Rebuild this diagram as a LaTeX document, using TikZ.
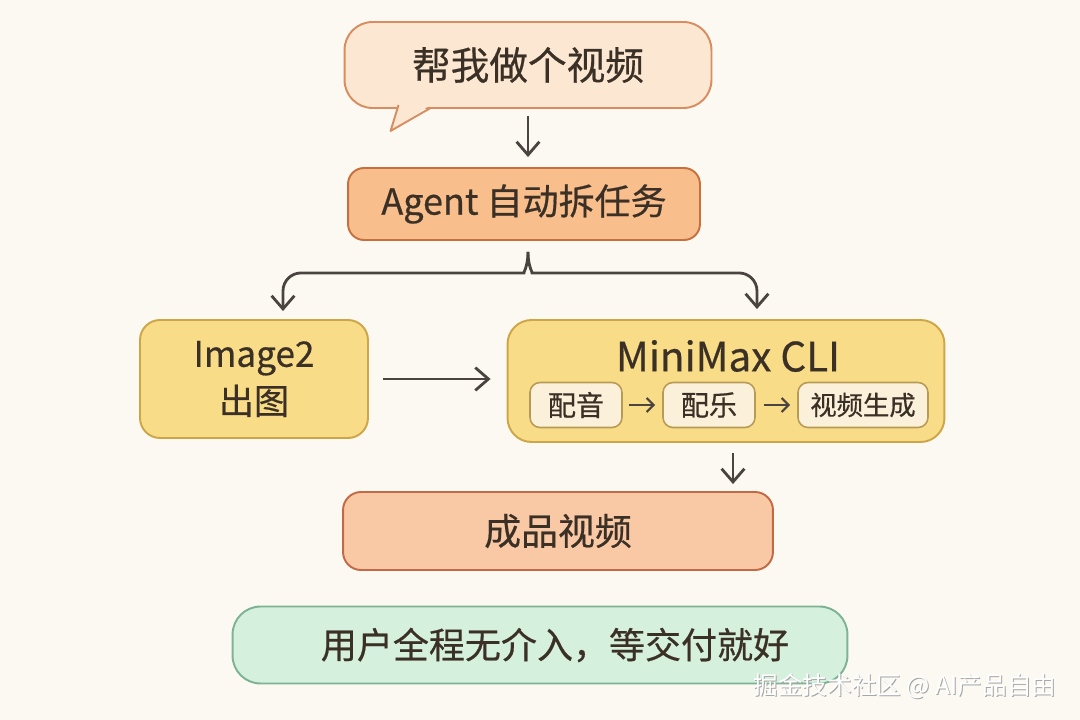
\documentclass[tikz,border=0pt]{standalone}
\usepackage{fontspec}
\newfontfamily\cjk[FakeBold=0.5]{Noto Sans CJK SC}
\newfontfamily\markfont{Noto Sans CJK SC}
\usepackage{tikz}
\usetikzlibrary{arrows.meta,calc}
\definecolor{paper}{HTML}{FCF9F2}
\definecolor{ink}{HTML}{3B3026}
\definecolor{arrowgray}{HTML}{4A4440}
\definecolor{peachfill}{HTML}{FCE8D2}
\definecolor{peachline}{HTML}{D98C5F}
\definecolor{orangefill}{HTML}{F8BE8C}
\definecolor{orangeline}{HTML}{C7703F}
\definecolor{yellowfill}{HTML}{F9DC87}
\definecolor{yellowline}{HTML}{CDA648}
\definecolor{creamfill}{HTML}{FBF0DA}
\definecolor{creamline}{HTML}{B79B55}
\definecolor{salmonfill}{HTML}{F9C9A5}
\definecolor{salmonline}{HTML}{C26A45}
\definecolor{mintfill}{HTML}{D5F0DD}
\definecolor{mintline}{HTML}{7DB394}

\begin{document}
\begin{tikzpicture}[x=0.02cm, y=-0.02cm,
    box/.style={draw, line width=1.1pt, text=ink, align=center, inner sep=0pt},
    arr/.style={draw=arrowgray, line width=1.6pt, -{Straight Barb[length=7.5pt,width=13pt]}},
    smallarr/.style={draw=arrowgray, line width=1.2pt, -{Straight Barb[length=4pt,width=8pt]}}]

                \useasboundingbox[fill=paper] (0,0) rectangle (1080,720);

                % request bubble
                \node[box, draw=peachline, fill=peachfill, rounded corners=0.56cm, minimum width=7.34cm, minimum height=1.72cm,
                      font=\cjk\fontsize{22}{26}\selectfont] (bubble) at (528,65) {帮我做个视频};
                \coordinate (tailL) at ($(bubble.south west)+(55,-4)$);
                \coordinate (tailR) at ($(bubble.south west)+(87,-1)$);
                \coordinate (tailtip) at ($(bubble.south west)+(47,22)$);
                \fill[peachfill] ($(tailL)+(0,-3)$) -- (tailtip) -- ($(tailR)+(0,-3)$) -- cycle;
                \draw[peachline, line width=1.1pt, line join=round] (tailL) -- (tailtip) -- (tailR);

                \node[box, draw=orangeline, fill=orangefill, rounded corners=0.32cm, minimum width=7.04cm, minimum height=1.44cm,
                      font=\cjk\fontsize{20.5}{24}\selectfont] (agent) at (524,204) {Agent 自动拆任务};

                \node[box, draw=yellowline, fill=yellowfill, rounded corners=0.4cm, minimum width=4.56cm, minimum height=2.36cm,
                      font=\cjk\fontsize{20}{27}\selectfont] (image) at (254,379) {Image2\\出图};

                \node[box, draw=yellowline, fill=yellowfill, rounded corners=0.48cm, minimum width=8.74cm, minimum height=2.44cm] (minimax) at (726,381) {};
                \node[text=ink, font=\cjk\fontsize{23}{27}\selectfont] (cli) at (728,356) {MiniMax CLI};

                \node[box, draw=creamline, fill=creamfill, rounded corners=0.2cm, minimum width=1.84cm, minimum height=0.9cm,
                      line width=0.9pt, font=\cjk\fontsize{16}{19}\selectfont] (dub) at (576,405) {配音};
                \node[box, draw=creamline, fill=creamfill, rounded corners=0.2cm, minimum width=1.84cm, minimum height=0.9cm,
                      line width=0.9pt, font=\cjk\fontsize{16}{19}\selectfont] (music) at (709,405) {配乐};
                \node[box, draw=creamline, fill=creamfill, rounded corners=0.2cm, minimum width=2.6cm, minimum height=0.9cm,
                      line width=0.9pt, font=\cjk\fontsize{15}{18}\selectfont] (render) at (863,405) {视频生成};

                \node[box, draw=salmonline, fill=salmonfill, rounded corners=0.36cm, minimum width=8.6cm, minimum height=1.56cm,
                      font=\cjk\fontsize{21}{25}\selectfont] (result) at (558,531) {成品视频};

                \node[box, draw=mintline, fill=mintfill, rounded corners=0.56cm, minimum width=12.3cm, minimum height=1.54cm,
                      font=\cjk\fontsize{20.5}{24}\selectfont] (note) at (540,645) {\hspace*{0.6cm}用户全程无介入，等交付就好};

                % watermark
                \node[text=gray!70, font=\markfont\fontsize{14}{17}\selectfont] (markshadow) at (906,687) {掘金技术社区 @ AI产品自由};
                \node[text=white, font=\markfont\fontsize{14}{17}\selectfont] (mark) at (905,686) {掘金技术社区 @ AI产品自由};

                \draw[arr, shorten <=0.14cm, shorten >=0.2cm] (bubble.south) -- (bubble.south |- agent.north);

                % split brace
                \coordinate (cusp) at ($(agent.south)+(4,11)$);
                \coordinate (lefttip) at ($(image.north)+(29,-8)$);
                \coordinate (righttip) at ($(minimax.north)+(31,-10)$);
                \draw[arr, rounded corners=0.36cm] (cusp) .. controls ($(cusp)+(0,15)$) and ($(cusp)+(-5,21)$) .. ($(cusp)+(-22,21)$) -| (lefttip);
                \draw[arr, rounded corners=0.36cm] (cusp) .. controls ($(cusp)+(0,15)$) and ($(cusp)+(5,21)$) .. ($(cusp)+(22,21)$) -| (righttip);

                \draw[arr, shorten <=0.28cm, shorten >=0.32cm] (image.east) -- (image.east -| minimax.west);
                \draw[smallarr, shorten <=0.12cm, shorten >=0.14cm] (dub) -- (music);
                \draw[smallarr, shorten <=0.16cm, shorten >=0.14cm] (music) -- (render);

                \coordinate (mmout) at ($(minimax.south)+(7,0)$);
                \draw[arr, shorten <=0.2cm, shorten >=0.14cm] (mmout) -- (mmout |- result.north);

\end{tikzpicture}
\end{document}
